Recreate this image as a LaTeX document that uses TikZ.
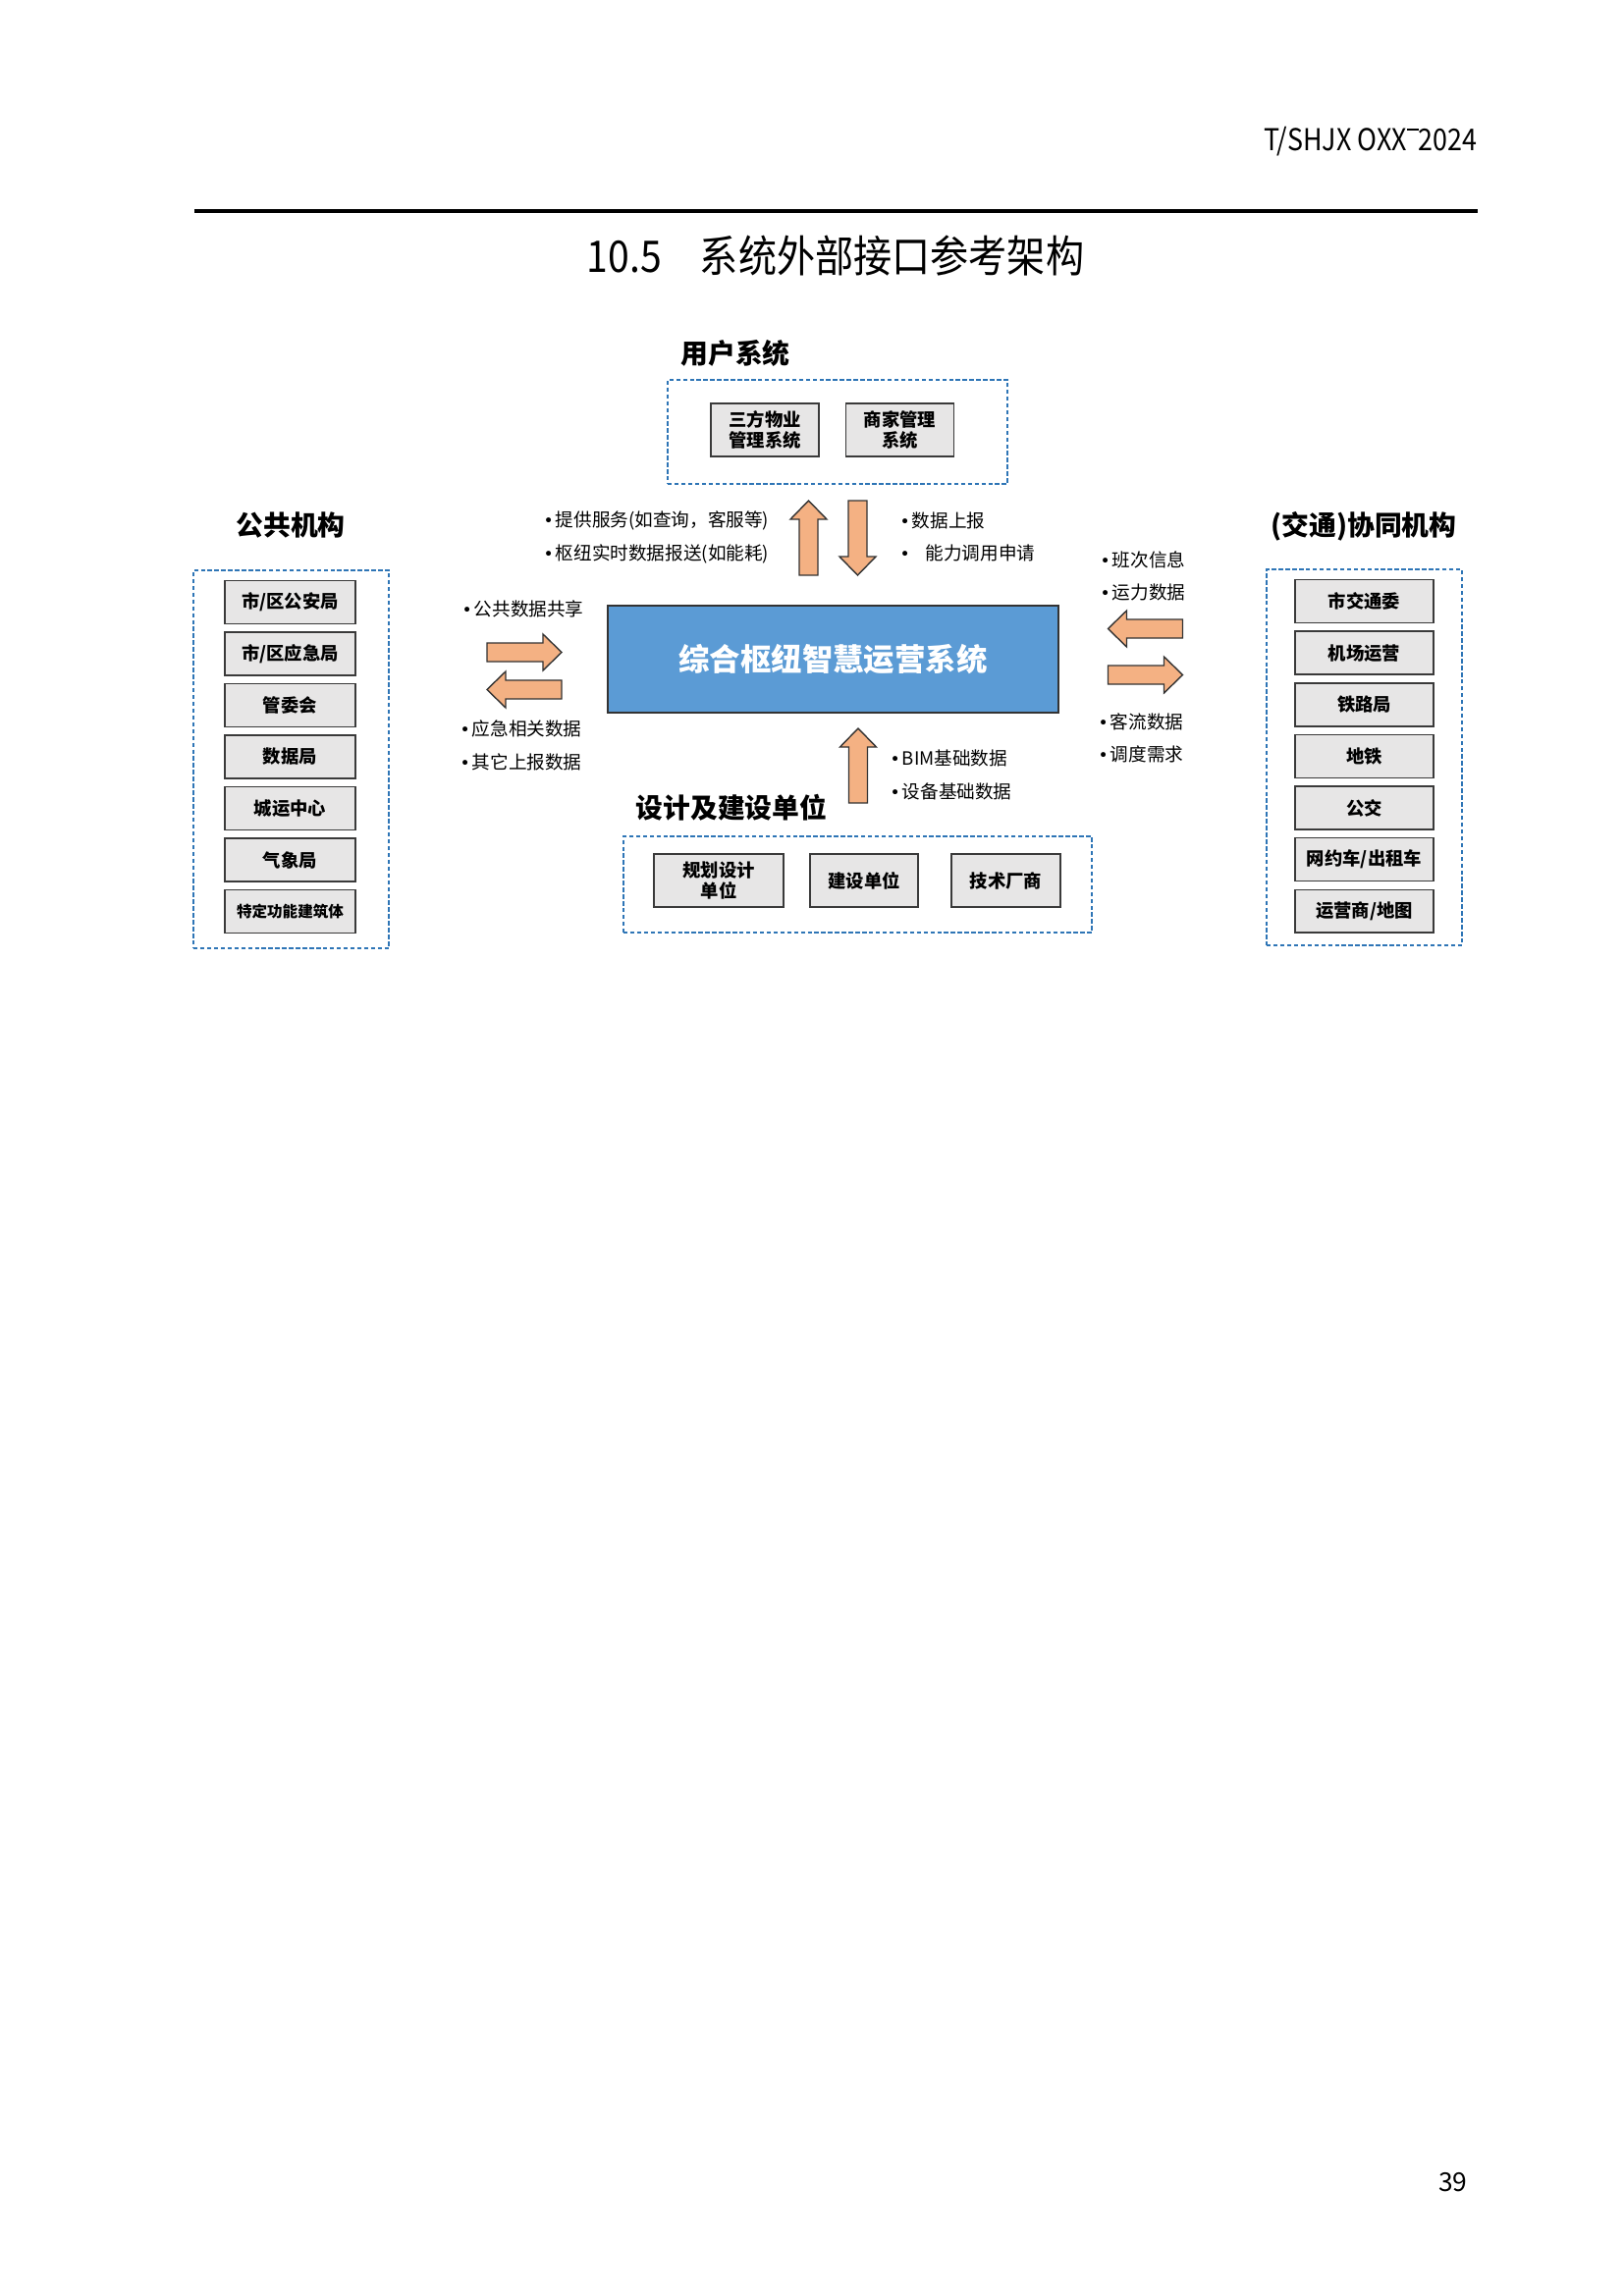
\documentclass[tikz,border=0pt]{standalone}
\usepackage{fontspec}
\setmainfont{Noto Sans CJK SC}
\newfontfamily\symfont{DejaVu Sans}
\usetikzlibrary{positioning}
\definecolor{boxgray}{HTML}{E7E6E6}
\definecolor{hubblue}{HTML}{5B9BD5}
\definecolor{flowfill}{HTML}{F4B183}
\definecolor{dashblue}{HTML}{2E75B6}
\definecolor{edgegray}{HTML}{3A3A3A}
\newcommand{\itm}{\makebox[4.4pt][l]{\symfont\fontsize{6.2}{6}\selectfont •}}
\tikzset{
  unitbox/.style={
    draw=edgegray,
    line width=0.55pt,
    fill=boxgray,
    align=center,
    inner sep=0pt,
    font=\bfseries\fontsize{6.6}{7.6}\selectfont
  },
  group/.style={
    draw=dashblue,
    line width=0.45pt,
    dash pattern=on 1.6pt off 0.9pt,
    inner sep=0pt
  },
  grouptitle/.style={font=\bfseries\fontsize{10}{12}\selectfont},
  hub/.style={
    draw=black!80,
    line width=0.6pt,
    fill=hubblue,
    text=white,
    minimum width=165.2pt,
    minimum height=39.2pt,
    font=\bfseries\fontsize{11.3}{13}\selectfont
  },
  note/.style={anchor=west, inner sep=0pt, font=\fontsize{6.7}{8}\selectfont},
  flowarrow/.pic={
    \draw[fill=flowfill, draw=black!80, line width=0.5pt, line join=miter]
      (-38,-9.5) -- (19,-9.5) -- (19,-18.5) -- (38,0) -- (19,18.5) -- (19,9.5) -- (-38,9.5) -- cycle;
  }
}

\begin{document}
\begin{tikzpicture}[x=0.3599pt, y=-0.3599pt]
		\useasboundingbox (0,0) rectangle (1654,2339);
		% page head
		\node[anchor=east, inner sep=0pt, font=\fontsize{10.5}{12}\selectfont] (docid) at (1505,144)
			{\scalebox{0.92}[1.05]{T/SHJX OXX\rule[0.66em]{0.45em}{0.08em}2024}};
		\coordinate (ruleL) at (198,215);
		\coordinate (ruleR) at (1505,215);
		\draw[line width=1.1pt] (ruleL) -- (ruleR);
		\node[font=\fontsize{16}{18}\selectfont] (title) at (851,261) {\scalebox{0.88}[1]{10.5\quad 系统外部接口参考架构}};
		\node[anchor=east, inner sep=0pt, font=\fontsize{9.5}{11}\selectfont] (pageno) at (1495,2223) {39};

		% hub
		\node[hub] (hub) at (848.5,671.5) {综合枢纽智慧运营系统};

		% user systems
		\node[grouptitle] (usertitle) at (749,360) {用户系统};
		\node[group, minimum width=124.5pt, minimum height=38.2pt] (usergrp) at (853,440) {};
		\node[unitbox, minimum width=39.6pt, minimum height=19.4pt] (user1) at (779,438) {三方物业\\管理系统};
		\node[unitbox, minimum width=39.6pt, minimum height=19.4pt] (user2) at (916.5,438) {商家管理\\系统};

		% public bodies
		\node[grouptitle] (pubtitle) at (296,535) {公共机构};
		\node[group, minimum width=71.6pt, minimum height=138.6pt] (pubgrp) at (296.5,773.5) {};
		\foreach \txt [count=\i] in {市/区公安局, 市/区应急局, 管委会, 数据局, 城运中心, 气象局, {\fontsize{5.6}{7}\selectfont 特定功能建筑体}} {
			\node[unitbox, minimum width=47.9pt, minimum height=15.8pt] (pub\i) at (295.5,{561+52.5*\i}) {\txt};
		}

		% traffic partners
		\node[grouptitle] (traftitle) at (1389,536) {(交通)协同机构};
		\node[group, minimum width=71.6pt, minimum height=137.8pt] (trafgrp) at (1389.5,771.5) {};
		\foreach \txt [count=\i] in {市交通委, 机场运营, 铁路局, 地铁, 公交, 网约车/出租车, 运营商/地图} {
			\node[unitbox, minimum width=50.7pt, minimum height=15.8pt] (traf\i) at (1389.5,{560+52.6*\i}) {\txt};
		}

		% design and construction
		\node[grouptitle] (buildtitle) at (745,823) {设计及建设单位};
		\node[group, minimum width=171.7pt, minimum height=35.3pt] (buildgrp) at (873.5,901) {};
		\node[unitbox, minimum width=47.5pt, minimum height=19.4pt] (build1) at (732,897) {规划设计\\单位};
		\node[unitbox, minimum width=39.6pt, minimum height=19.4pt] (build2) at (880,897) {建设单位};
		\node[unitbox, minimum width=40pt, minimum height=19.4pt] (build3) at (1024.5,897) {技术厂商};

		% flows
		\pic[rotate=90] (userup) at (823.5,548) {flowarrow};
		\pic[rotate=-90] (userdown) at (873.5,548) {flowarrow};
		\pic (pubout) at (534,664.5) {flowarrow};
		\pic[rotate=180] (pubin) at (534,702.5) {flowarrow};
		\pic[rotate=180] (trafin) at (1166.5,640.5) {flowarrow};
		\pic (trafout) at (1166.5,687.5) {flowarrow};
		\pic[rotate=90] (buildup) at (874,780) {flowarrow};

		% flow notes
		\node[note] (n1) at (553,530) {\itm 提供服务(如查询，客服等)};
		\node[note] (n2) at (553,564) {\itm 枢纽实时数据报送(如能耗)};
		\node[note] (n3) at (916,530) {\itm 数据上报};
		\node[note] (n4) at (916,563) {\itm\hspace{5pt}能力调用申请};
		\node[note] (n5) at (470,620) {\itm 公共数据共享};
		\node[note] (n6) at (468,742) {\itm 应急相关数据};
		\node[note] (n7) at (468,776) {\itm 其它上报数据};
		\node[note] (n8) at (1120,570) {\itm 班次信息};
		\node[note] (n9) at (1120,603) {\itm 运力数据};
		\node[note] (n10) at (1118,735) {\itm 客流数据};
		\node[note] (n11) at (1118,768) {\itm 调度需求};
		\node[note] (n12) at (906,772) {\itm BIM基础数据};
		\node[note] (n13) at (906,806) {\itm 设备基础数据};
	\end{tikzpicture}
\end{document}
